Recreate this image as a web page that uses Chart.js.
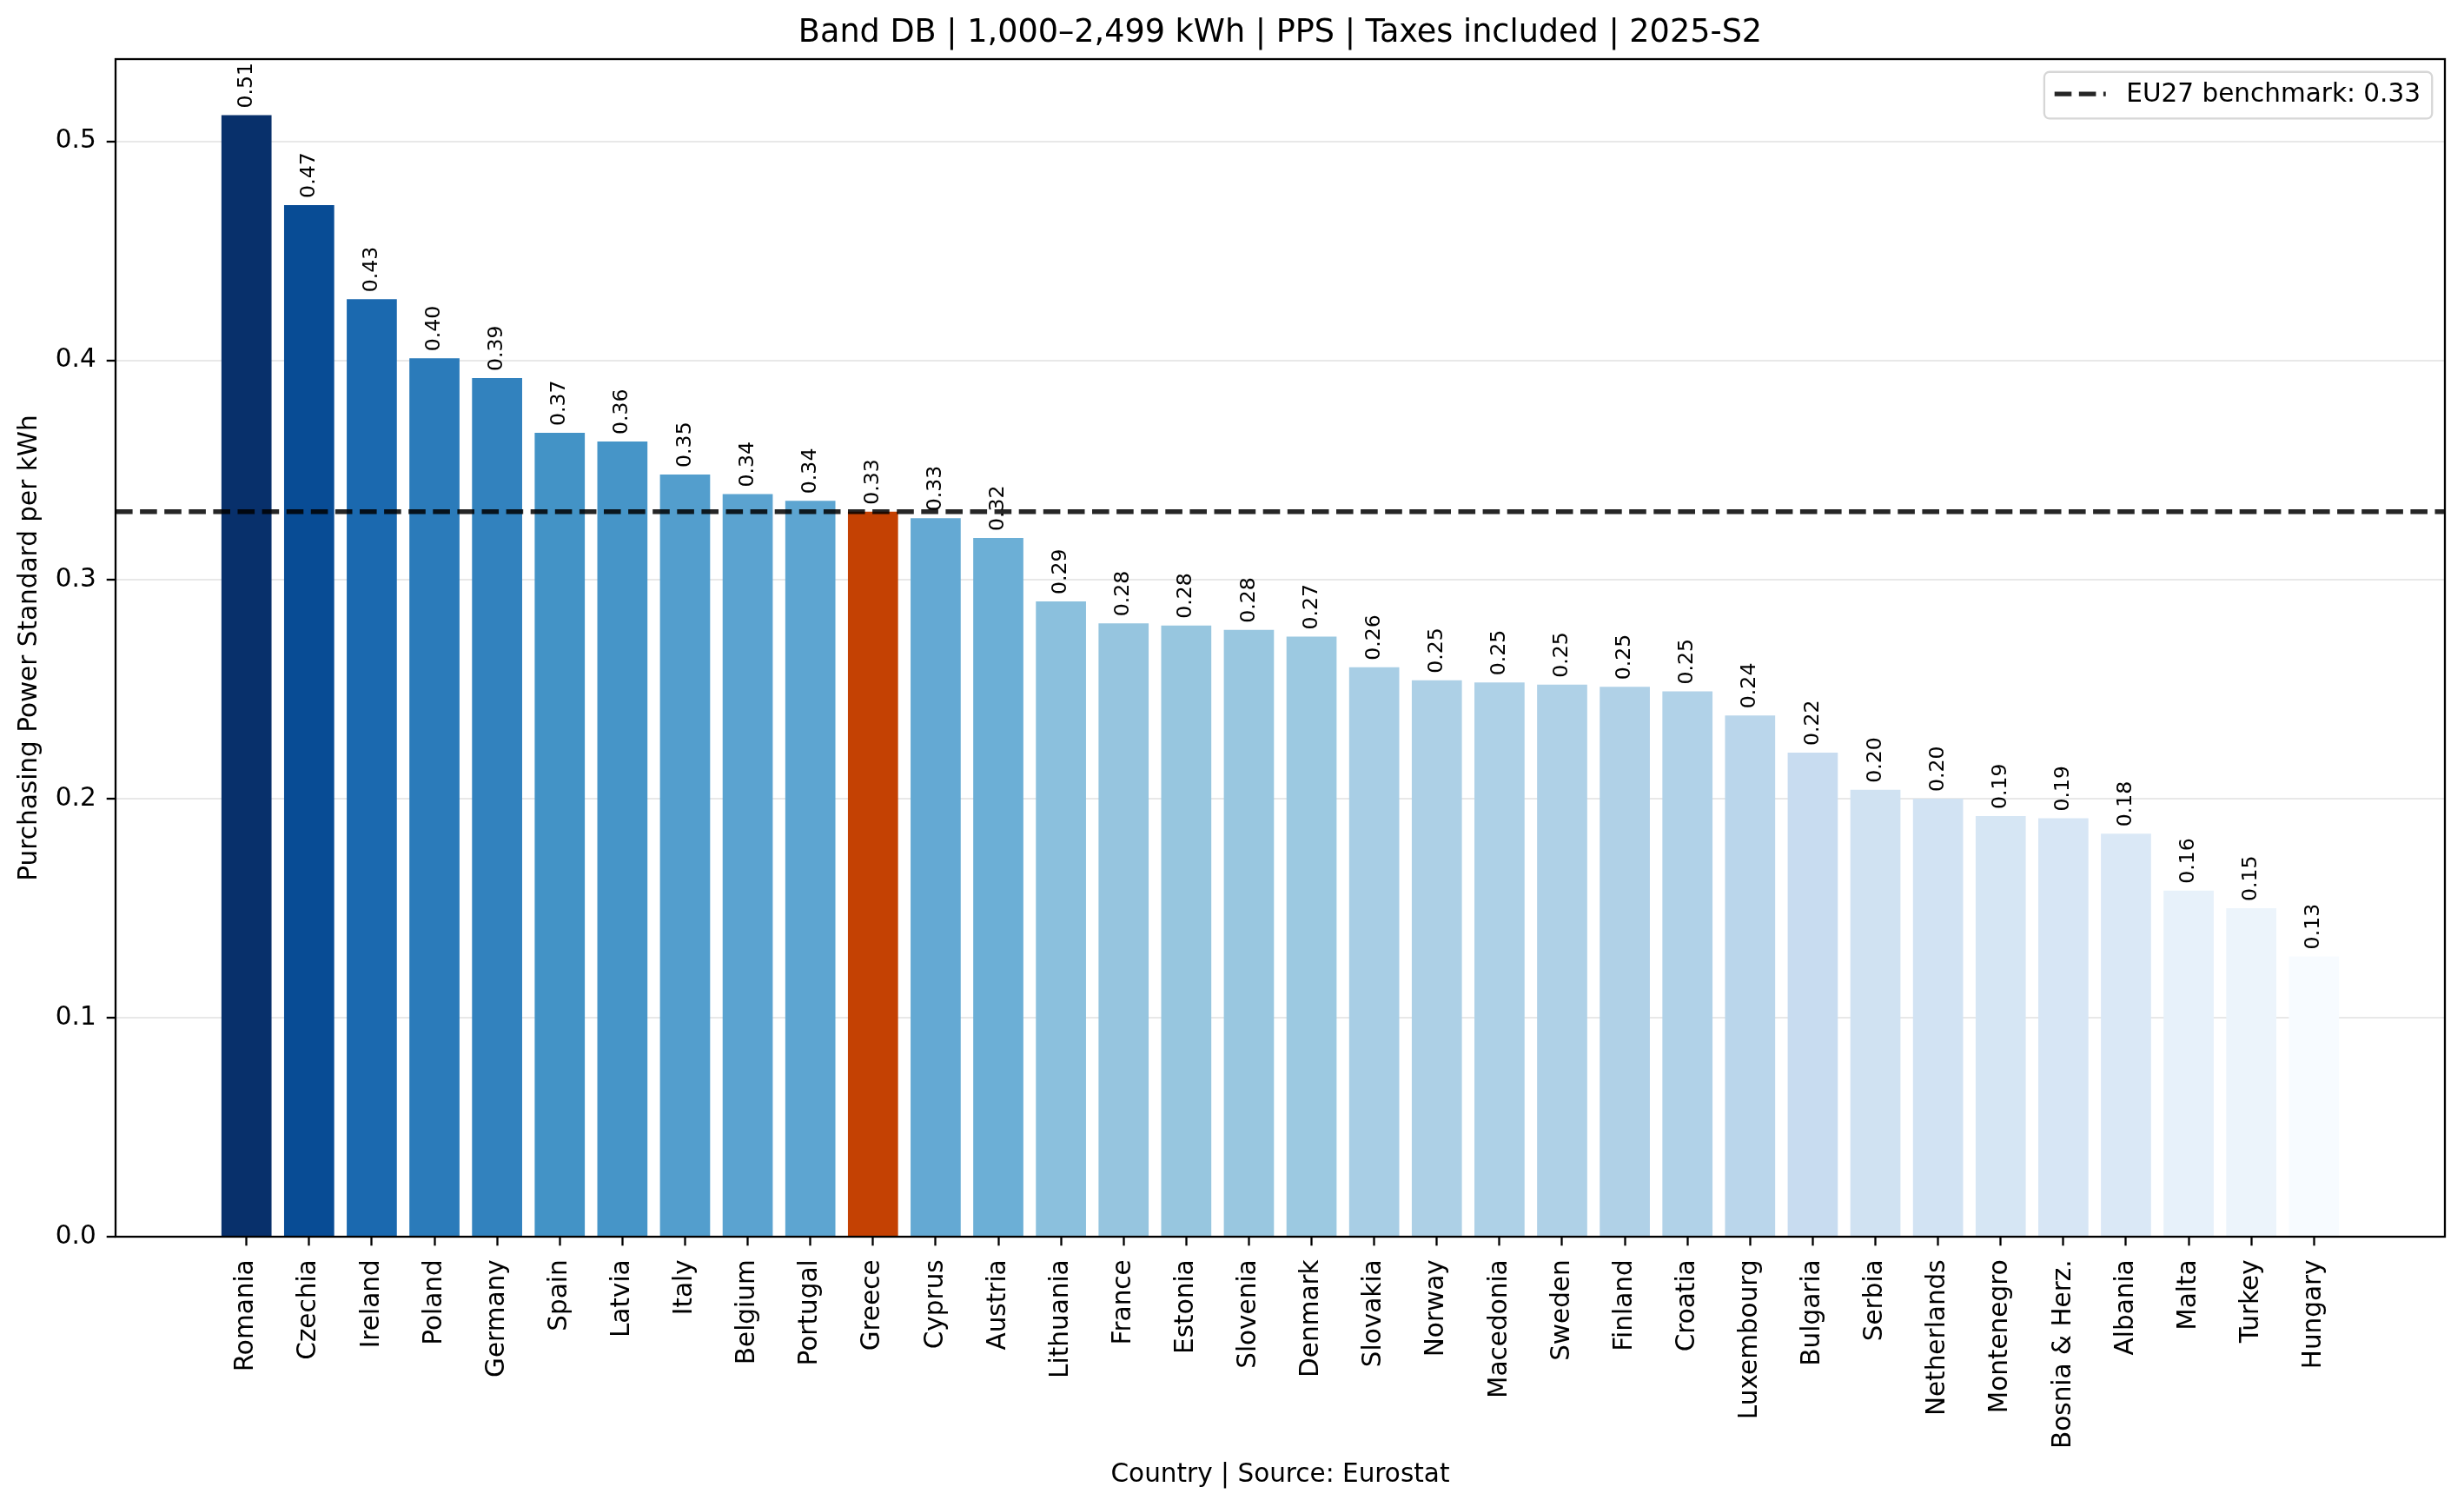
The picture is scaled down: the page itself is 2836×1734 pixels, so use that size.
<!DOCTYPE html>
<html>
<head>
<meta charset="utf-8">
<title>Band DB - PPS per kWh</title>
<script src="https://cdn.jsdelivr.net/npm/chart.js@4.4.1/dist/chart.umd.min.js"></script>
<style>
	html, body { margin: 0; padding: 0; background: #ffffff; }
	#grafico { display: block; width: 2836px; height: 1734px; }
</style>
</head>
<body>
<canvas id="grafico" width="2836" height="1734"></canvas>
<script>
// Dados
var paises = [
	"Romania", "Czechia", "Ireland", "Poland", "Germany", "Spain", "Latvia",
	"Italy", "Belgium", "Portugal", "Greece", "Cyprus", "Austria", "Lithuania",
	"France", "Estonia", "Slovenia", "Denmark", "Slovakia", "Norway",
	"Macedonia", "Sweden", "Finland", "Croatia", "Luxembourg", "Bulgaria",
	"Serbia", "Netherlands", "Montenegro", "Bosnia & Herz.", "Albania",
	"Malta", "Turkey", "Hungary",
];
var valores = [
	0.512, 0.471, 0.428, 0.401, 0.392, 0.367, 0.363,
	0.348, 0.339, 0.336, 0.331, 0.328, 0.319, 0.290,
	0.280, 0.279, 0.277, 0.274, 0.260, 0.254,
	0.253, 0.252, 0.251, 0.249, 0.238, 0.221,
	0.204, 0.200, 0.192, 0.191, 0.184,
	0.158, 0.150, 0.128,
];
var benchmark = 0.331;
var ticksY = [0.0, 0.1, 0.2, 0.3, 0.4, 0.5];
var destaque = "Greece";

var titulo = "Band DB | 1,000\u20132,499 kWh | PPS | Taxes included | 2025-S2";
var tituloX = "Country | Source: Eurostat";
var tituloY = "Purchasing Power Standard per kWh";

// Estilo
var fonte = "'DejaVu Sans', sans-serif";
var tamTexto = 29.5;
var corDestaque = "#c44103";
var escalaBlues = ["#f7fbff", "#deebf7", "#c6dbef", "#9ecae1", "#6baed6", "#4292c6", "#2171b5", "#08519c", "#08306b"];

function hexParaRgb(hex) {
	return [parseInt(hex.slice(1, 3), 16), parseInt(hex.slice(3, 5), 16), parseInt(hex.slice(5, 7), 16)];
}

// mapa de cores "Blues" (interpolação linear entre as cores base)
function corBlues(t) {
	t = Math.min(1, Math.max(0, t));
	var pos = t * (escalaBlues.length - 1);
	var i = Math.min(Math.floor(pos), escalaBlues.length - 2);
	var f = pos - i;
	var a = hexParaRgb(escalaBlues[i]);
	var b = hexParaRgb(escalaBlues[i + 1]);
	var c = a.map((v, k) => Math.round(v + (b[k] - v) * f));
	return "rgb(" + c[0] + "," + c[1] + "," + c[2] + ")";
}

var vMin = Math.min(...valores);
var vMax = Math.max(...valores);
var cores = valores.map((v, i) =>
	paises[i] == destaque ? corDestaque : corBlues((v - vMin) / (vMax - vMin)),
);

// margens automáticas (5%) no eixo x, como no original
var larguraBarra = 0.8;
var faixa = paises.length - 1 + larguraBarra;
var xMin = -larguraBarra / 2 - faixa * 0.05;
var xMax = paises.length - 1 + larguraBarra / 2 + faixa * 0.05;
var yMax = vMax * 1.05;

// Rótulos, bordas e legenda
var pluginExtras = {
	id: "extras",
	afterDatasetsDraw(chart) {
		const ctx = chart.ctx;
		const area = chart.chartArea;

		// moldura do gráfico
		ctx.save();
		ctx.strokeStyle = "#000";
		ctx.lineWidth = 2.3;
		ctx.strokeRect(area.left, area.top, area.right - area.left, area.bottom - area.top);
		ctx.restore();

		// valores acima das barras
		const meta = chart.getDatasetMeta(1);
		ctx.save();
		ctx.fillStyle = "#000";
		ctx.font = "23.6px " + fonte;
		ctx.textAlign = "left";
		ctx.textBaseline = "middle";
		for (let i = 0; i < meta.data.length; i++) {
			const barra = meta.data[i];
			ctx.save();
			ctx.translate(barra.x, barra.y - 8);
			ctx.rotate(-Math.PI / 2);
			ctx.fillText(valores[i].toFixed(2), 0, 0);
			ctx.restore();
		}
		ctx.restore();
	},
	afterDraw(chart) {
		const ctx = chart.ctx;
		const area = chart.chartArea;
		const ds = chart.data.datasets[0];
		const fs = tamTexto;

		ctx.save();
		ctx.font = fs + "px " + fonte;
		const larguraTexto = ctx.measureText(ds.label).width;
		const largura = 0.4 * fs + 2 * fs + 0.8 * fs + larguraTexto + 0.45 * fs;
		const altura = 1.82 * fs;
		const direita = area.right - 0.5 * fs;
		const esquerda = direita - largura;
		const topo = area.top + 0.5 * fs;
		const meio = topo + altura / 2 - 1.5;

		ctx.beginPath();
		ctx.roundRect(esquerda, topo, largura, altura, 6);
		ctx.fillStyle = "rgba(255,255,255,0.8)";
		ctx.fill();
		ctx.strokeStyle = "#d6d6d6";
		ctx.lineWidth = 2.3;
		ctx.stroke();

		ctx.beginPath();
		ctx.setLineDash(ds.borderDash);
		ctx.strokeStyle = ds.borderColor;
		ctx.lineWidth = ds.borderWidth;
		ctx.moveTo(esquerda + 0.4 * fs, meio);
		ctx.lineTo(esquerda + 2.4 * fs, meio);
		ctx.stroke();
		ctx.setLineDash([]);

		ctx.fillStyle = "#000";
		ctx.textAlign = "left";
		ctx.textBaseline = "middle";
		ctx.fillText(ds.label, esquerda + 3.2 * fs, meio + 1.5);
		ctx.restore();
	},
};

var fonteTexto = { family: fonte, size: tamTexto, weight: "normal" };

new Chart(document.getElementById("grafico"), {
	type: "bar",
	data: {
		datasets: [
			{
				type: "line",
				label: "EU27 benchmark: " + benchmark.toFixed(2),
				data: [
					{ x: xMin, y: benchmark },
					{ x: xMax, y: benchmark },
				],
				borderColor: "rgba(0,0,0,0.85)",
				borderWidth: 5.3,
				borderDash: [19.6, 8.5],
				pointRadius: 0,
				fill: false,
				order: 0,
			},
			{
				type: "bar",
				label: "PPS per kWh",
				data: valores.map((v, i) => ({ x: i, y: v })),
				backgroundColor: cores,
				borderWidth: 0,
				barPercentage: larguraBarra,
				categoryPercentage: 1.0,
				order: 1,
			},
		],
	},
	options: {
		responsive: false,
		devicePixelRatio: 1,
		animation: false,
		layout: { padding: { left: 0, right: 22, top: 0, bottom: 0 } },
		plugins: {
			legend: { display: false },
			tooltip: { enabled: false },
			title: {
				display: true,
				text: titulo,
				fullSize: false,
				color: "#000",
				font: { family: fonte, size: 36.6, weight: "normal" },
				padding: { top: 17, bottom: 7.1 },
			},
		},
		scales: {
			x: {
				type: "linear",
				min: xMin,
				max: xMax,
				offset: false,
				afterBuildTicks: (escala) => {
					escala.ticks = paises.map((p, i) => ({ value: i }));
				},
				afterFit: (escala) => {
					escala.height = 311;
				},
				grid: {
					display: true,
					drawOnChartArea: false,
					offset: false,
					tickLength: 10.3,
					tickWidth: 2.3,
					tickColor: "#000",
				},
				border: { display: false },
				ticks: {
					autoSkip: false,
					minRotation: 90,
					maxRotation: 90,
					padding: 16,
					color: "#000",
					font: fonteTexto,
					callback: (v) => paises[v],
				},
				title: {
					display: true,
					text: tituloX,
					color: "#000",
					font: fonteTexto,
					padding: { top: 0, bottom: 19 },
				},
			},
			y: {
				min: 0,
				max: yMax,
				afterBuildTicks: (escala) => {
					escala.ticks = ticksY.map((v) => ({ value: v }));
				},
				afterFit: (escala) => {
					escala.width = 133;
				},
				grid: {
					color: "#e8e8e8",
					lineWidth: 2,
					tickLength: 10.3,
					tickWidth: 2.3,
					tickColor: "#000",
				},
				border: { display: false },
				ticks: {
					padding: 12,
					color: "#000",
					font: fonteTexto,
					callback: (v) => v.toFixed(1),
				},
				title: {
					display: true,
					text: tituloY,
					color: "#000",
					font: fonteTexto,
					padding: { top: 17, bottom: 0 },
				},
			},
		},
	},
	plugins: [pluginExtras],
});
</script>
</body>
</html>
